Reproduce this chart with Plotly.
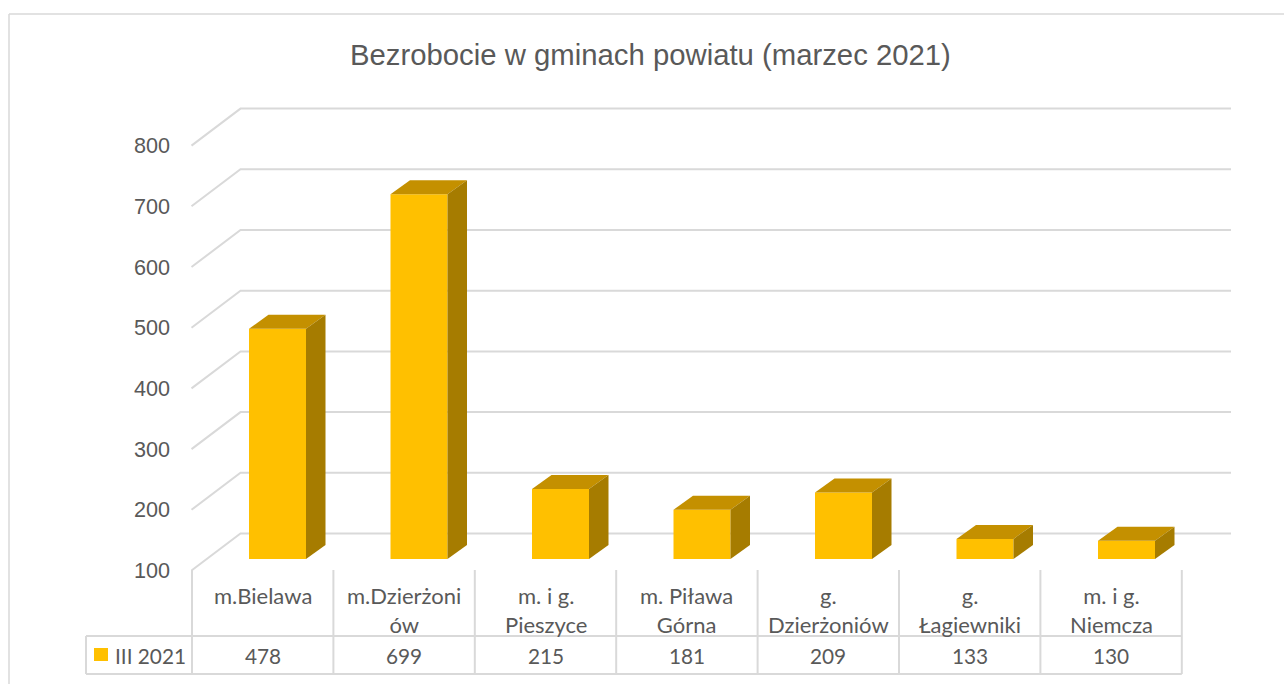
import plotly.graph_objects as go

TITLE = "Bezrobocie w gminach powiatu (marzec 2021)"
SERIES = "III 2021"
categories = ["m.Bielawa", "m.Dzierżoni<br>ów", "m. i g.<br>Pieszyce", "m. Piława<br>Górna",
              "g.<br>Dzierżoniów", "g.<br>Łagiewniki", "m. i g.<br>Niemcza"]
values = [478, 699, 215, 181, 209, 133, 130]
ticks = [100, 200, 300, 400, 500, 600, 700, 800]

W, H = 1284, 684
GREY = "#D9D9D9"
TXT = "#595959"
FRONT, SIDE, TOP = "#FFC000", "#A67C00", "#C49000"

# pixel geometry of the pseudo 3D projection
STEP = 141.5          # px per category
X0 = 277.5            # px of first bar centre
BAR_W = 57.0 / STEP   # bar width, category units
BAR_PX = 0.609        # px per value unit, bars
BAR_BASE_PX = 559.0   # px of value 100 on the bars
GRID_PX = 0.607       # px per value unit, walls
GRID_BASE_PX = 570.5  # px of value 100 on the front plane


def xu(px):
    return (px - X0) / STEP


def paper_x(px):
    return px / W


def paper_y(py):
    return 1 - py / H


n = len(categories)
idx = list(range(n))
fig = go.Figure()

# walls (main subplot, sits under the bars)
wall_dx = 49.0
wall_dy = 37.0 / GRID_PX
for t in ticks:
    fig.add_trace(go.Scatter(
        x=[xu(191.5), xu(191.5 + wall_dx), xu(1231)], y=[t, t + wall_dy, t + wall_dy],
        mode="lines", line=dict(color=GREY, width=2), hoverinfo="skip", showlegend=False,
        xaxis="x", yaxis="y"))

# bars (overlay subplot)
fig.add_trace(go.Bar(
    x=idx, y=[v - 100 for v in values], base=100, width=BAR_W, name=SERIES,
    marker=dict(color=FRONT, line=dict(width=0)), xaxis="x", yaxis="y2", showlegend=False))

dx = 19.5 / STEP
dy = 14.0 / BAR_PX
for i, v in zip(idx, values):
    l, r = i - BAR_W / 2, i + BAR_W / 2
    fig.add_trace(go.Scatter(
        x=[l, r, r + dx, l + dx, l], y=[v, v, v + dy, v + dy, v],
        mode="lines", fill="toself", fillcolor=TOP, line=dict(width=0, color=TOP),
        hoverinfo="skip", showlegend=False, xaxis="x", yaxis="y2"))
    fig.add_trace(go.Scatter(
        x=[r, r + dx, r + dx, r, r], y=[100, 100 + dy, v + dy, v, 100],
        mode="lines", fill="toself", fillcolor=SIDE, line=dict(width=0, color=SIDE),
        hoverinfo="skip", showlegend=False, xaxis="x", yaxis="y2"))

shapes = []


def line(x0, y0, x1, y1, width=2):
    shapes.append(dict(type="line", xref="paper", yref="paper",
                       x0=paper_x(x0), x1=paper_x(x1), y0=paper_y(y0), y1=paper_y(y1),
                       line=dict(color=GREY, width=width)))


# chart frame
line(9, 14, W, 14, 1.5)
line(9, 14, 9, H, 1.5)

# data table
T_LEFT, T_X0, T_STEP = 86, 192, 141.4
T_TOP, T_ROW, T_BOT = 570, 636, 674
for k in range(n + 1):
    xk = T_X0 + k * T_STEP
    line(xk, T_TOP, xk, T_BOT)
line(T_LEFT, T_ROW, T_X0 + n * T_STEP, T_ROW)
line(T_LEFT, T_BOT, T_X0 + n * T_STEP, T_BOT)
line(T_LEFT, T_ROW, T_LEFT, T_BOT)
shapes.append(dict(type="rect", xref="paper", yref="paper", x0=paper_x(94), x1=paper_x(108),
                   y0=paper_y(661), y1=paper_y(648), fillcolor=FRONT, line=dict(width=0)))

annotations = [dict(text=TITLE, xref="paper", yref="paper", x=paper_x(650.5), y=paper_y(54),
                    xanchor="center", yanchor="middle", showarrow=False,
                    font=dict(family="Liberation Sans", size=29.3, color=TXT))]
cell_font = dict(family="Lato", size=22, color=TXT)
value_font = dict(family="Lato", size=20.8, color=TXT)
for k, (c, v) in enumerate(zip(categories, values)):
    cx = paper_x(T_X0 + (k + 0.5) * T_STEP)
    annotations.append(dict(text=c, xref="paper", yref="paper", x=cx, y=paper_y(580),
                            xanchor="center", yanchor="top", showarrow=False,
                            font=cell_font, align="center"))
    annotations.append(dict(text=str(v), xref="paper", yref="paper", x=cx, y=paper_y(655),
                            xanchor="center", yanchor="middle", showarrow=False, font=value_font))
annotations.append(dict(text=SERIES, xref="paper", yref="paper", x=paper_x(113), y=paper_y(655),
                        xanchor="left", yanchor="middle", showarrow=False, font=value_font))

fig.update_layout(
    width=W, height=H, margin=dict(l=0, r=0, t=0, b=0),
    paper_bgcolor="white", plot_bgcolor="rgba(0,0,0,0)",
    showlegend=False, shapes=shapes, annotations=annotations,
    xaxis=dict(domain=[0, 1], range=[xu(0), xu(W)], visible=False, fixedrange=True),
    yaxis=dict(range=[100 - (H - GRID_BASE_PX) / GRID_PX, 100 + GRID_BASE_PX / GRID_PX],
               anchor="free", position=paper_x(170), side="left",
               tickvals=ticks, ticktext=[str(t) for t in ticks],
               tickfont=dict(family="Liberation Sans", size=21.6, color=TXT),
               showgrid=False, zeroline=False, showline=False, ticks="", fixedrange=True),
    yaxis2=dict(range=[100 - (H - BAR_BASE_PX) / BAR_PX, 100 + BAR_BASE_PX / BAR_PX],
                overlaying="y", visible=False, fixedrange=True),
)

fig.write_html("out.html", config=dict(displayModeBar=False),
               post_script="document.body.style.margin='0';document.documentElement.style.overflow='hidden';")
